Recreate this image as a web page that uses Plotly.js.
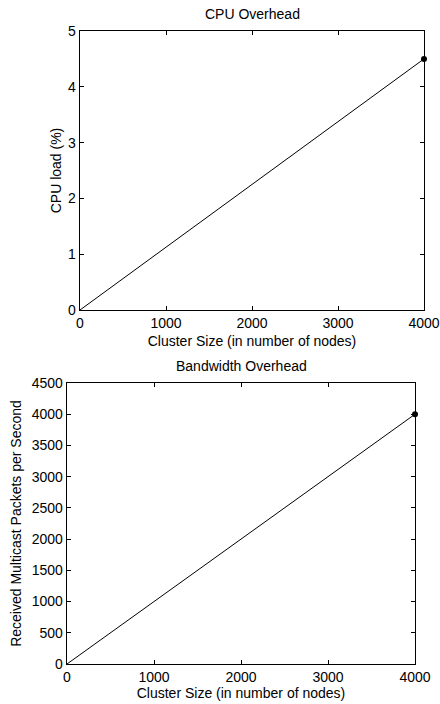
<!DOCTYPE html>
<html>
<head>
<meta charset="utf-8">
<script src="https://cdn.plot.ly/plotly-3.0.1.min.js"></script>
<style>html,body{margin:0;padding:0;background:#fff;}#chart{width:440px;height:704px;}</style>
</head>
<body>
<div id="chart"></div>
<script>
// Data
const clusterSize = [0, 4000];
const cpuLoad = [0, 4.5];
const packetsPerSecond = [0, 4000];
const cpuTicks = [0, 1, 2, 3, 4, 5];
const bwTicks = [0, 500, 1000, 1500, 2000, 2500, 3000, 3500, 4000, 4500];
const xTicks = [0, 1000, 2000, 3000, 4000];

const fam = 'Liberation Sans, Arial, sans-serif';
const font = {family: fam, size: 14, color: '#000'};
const tickFont = {family: fam, size: 14, color: '#000'};

const traces = [
  {x: clusterSize, y: cpuLoad, xaxis: 'x', yaxis: 'y', mode: 'lines', line: {color: '#000', width: 1}},
  {x: clusterSize.slice(-1), y: cpuLoad.slice(-1), xaxis: 'x', yaxis: 'y', mode: 'markers', marker: {color: '#000', size: 6}, cliponaxis: false},
  {x: clusterSize, y: packetsPerSecond, xaxis: 'x2', yaxis: 'y2', mode: 'lines', line: {color: '#000', width: 1}},
  {x: clusterSize.slice(-1), y: packetsPerSecond.slice(-1), xaxis: 'x2', yaxis: 'y2', mode: 'markers', marker: {color: '#000', size: 6}, cliponaxis: false}
];

const axisCommon = {
  showgrid: false, zeroline: false, showline: true, mirror: 'ticks',
  linecolor: '#000', linewidth: 1.3, ticks: 'inside', ticklen: 4, tickcolor: '#000',
  tickfont: tickFont, tickmode: 'array', automargin: false
};

const layout = {
  width: 440, height: 704,
  margin: {l: 0, r: 0, t: 0, b: 0},
  paper_bgcolor: '#fff', plot_bgcolor: '#fff',
  showlegend: false,
  font: font,
  xaxis: Object.assign({}, axisCommon, {
    domain: [80/440, 424/440], anchor: 'y', range: [0, 4000],
    tickvals: xTicks, ticktext: xTicks.map(String),
    title: {text: 'Cluster Size (in number of nodes)', font: font, standoff: 6}
  }),
  yaxis: Object.assign({}, axisCommon, {
    domain: [(704-310)/704, (704-31)/704], anchor: 'x', range: [0, 5],
    tickvals: cpuTicks, ticktext: cpuTicks.map(String),
    title: {text: 'CPU load (%)', font: font, standoff: 3}
  }),
  xaxis2: Object.assign({}, axisCommon, {
    domain: [67/440, 415/440], anchor: 'y2', range: [0, 4000],
    tickvals: xTicks, ticktext: xTicks.map(String),
    title: {text: 'Cluster Size (in number of nodes)', font: font, standoff: 1}
  }),
  yaxis2: Object.assign({}, axisCommon, {
    domain: [(704-664)/704, (704-383)/704], anchor: 'x2', range: [0, 4500],
    tickvals: bwTicks, ticktext: bwTicks.map(String),
    title: {text: 'Received Multicast Packets per Second', font: font, standoff: 6}
  }),
  annotations: [
    {text: 'CPU Overhead', xref: 'paper', yref: 'paper', x: 252/440, y: (704-14)/704, showarrow: false, font: font, xanchor: 'center', yanchor: 'middle'},
    {text: 'Bandwidth Overhead', xref: 'paper', yref: 'paper', x: 241/440, y: (704-366)/704, showarrow: false, font: font, xanchor: 'center', yanchor: 'middle'}
  ]
};

Plotly.newPlot('chart', traces, layout, {staticPlot: true, displayModeBar: false});
</script>
</body>
</html>
